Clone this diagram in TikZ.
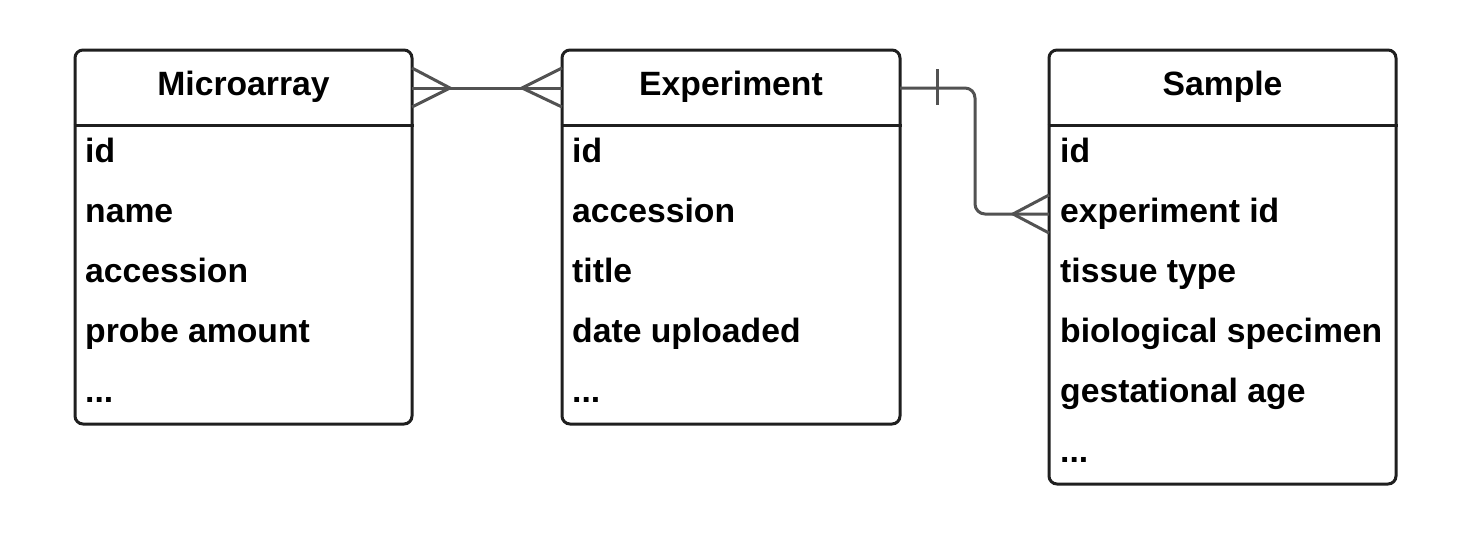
\documentclass[tikz,border=0pt]{standalone}
\usepackage{fontspec}
\setmainfont{Liberation Sans}
\usetikzlibrary{calc}
\begin{document}
\begin{tikzpicture}[x=1pt,y=-1pt,
  tbox/.style={draw=black!88, line width=3pt, rounded corners=8pt, inner sep=0pt},
  sep/.style={draw=black!88, line width=3pt},
  hdr/.style={font=\fontsize{33.7}{40}\selectfont\bfseries, inner sep=0pt, anchor=base},
  row/.style={font=\fontsize{33.7}{40}\selectfont\bfseries, inner sep=0pt, anchor=base west},
  rel/.style={draw=black!68, line width=3pt},
]
\path[use as bounding box, fill=white] (0,0) rectangle (1472,536);

% Microarray
\node[tbox, minimum width=337pt, minimum height=374pt] (m) at (243.5,237) {};
\draw[sep] (m.west |- 0,125) -- (m.east |- 0,125);
\node[hdr] (mh) at (243.5,95) {Microarray};
\node[row] (m1) at (85,162) {id};
\node[row] (m2) at (85,222) {name};
\node[row] (m3) at (85,282) {accession};
\node[row] (m4) at (85,342) {probe amount};
\node[row] (m5) at (85,402) {...};

% Experiment
\node[tbox, minimum width=338pt, minimum height=374pt] (e) at (731,237) {};
\draw[sep] (e.west |- 0,125) -- (e.east |- 0,125);
\node[hdr] (eh) at (731,95) {Experiment};
\node[row] (e1) at (572,162) {id};
\node[row] (e2) at (572,222) {accession};
\node[row] (e3) at (572,282) {title};
\node[row] (e4) at (572,342) {date uploaded};
\node[row] (e5) at (572,402) {...};

% Sample
\node[tbox, minimum width=347pt, minimum height=434pt] (s) at (1222.5,267) {};
\draw[sep] (s.west |- 0,125) -- (s.east |- 0,125);
\node[hdr] (sh) at (1222.5,95) {Sample};
\node[row] (s1) at (1060,162) {id};
\node[row] (s2) at (1060,222) {experiment id};
\node[row] (s3) at (1060,282) {tissue type};
\node[row] (s4) at (1060,342) {biological specimen};
\node[row] (s5) at (1060,402) {gestational age};
\node[row] (s6) at (1060,462) {...};

% connection points
\coordinate (ma) at (412,88);
\coordinate (ea) at (562,88);
\coordinate (eb) at (900,88);
\coordinate (sa) at (1049,214);

% Microarray -- Experiment (many to many)
\draw[rel] (ma) -- (ea);
\draw[rel] ($(ma)+(0,-20)$) -- ($(ma)+(38,0)$) -- ($(ma)+(0,19)$);
\draw[rel] ($(ea)+(0,-20)$) -- ($(ea)+(-40,0)$) -- ($(ea)+(0,19)$);

% Experiment -- Sample (one to many)
\draw[rel, rounded corners=10pt] (eb) -- (975,88) -- (975,214) -- (sa);
\draw[rel] (937,69) -- (937,105);
\draw[rel] ($(sa)+(0,-19)$) -- ($(sa)+(-36,0)$) -- ($(sa)+(0,19)$);
\end{tikzpicture}
\end{document}
